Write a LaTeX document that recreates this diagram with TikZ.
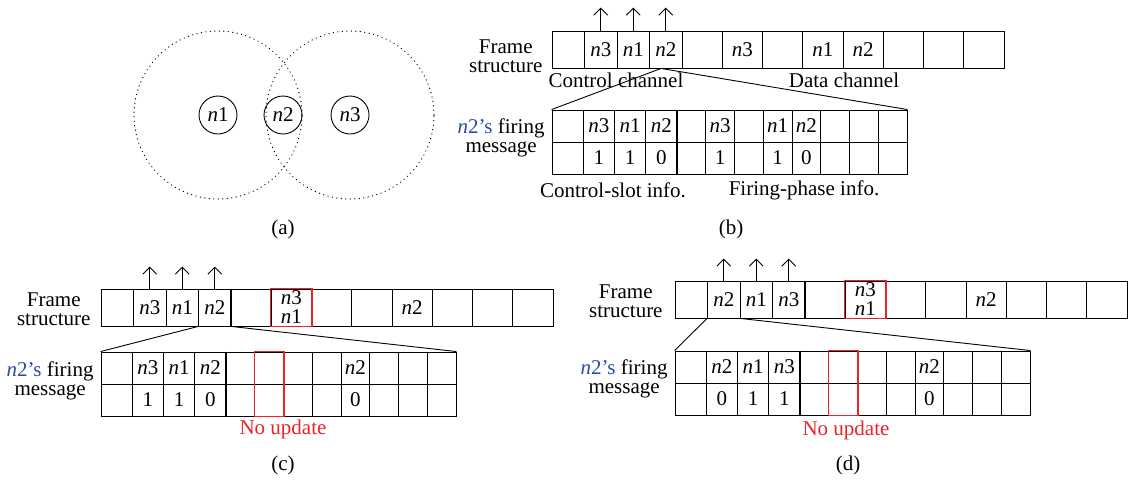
\documentclass[tikz,border=0pt]{standalone}
\usepackage{fontspec}
\setmainfont{Liberation Serif}
\usepackage{tikz}
\usetikzlibrary{arrows.meta}
\definecolor{nblue}{RGB}{40,75,165}
\definecolor{nred}{RGB}{235,35,40}

\begin{document}
\begin{tikzpicture}[x=1pt,y=-1pt,line width=0.9pt,font=\fontsize{21}{19}\selectfont,
  fc/.style={draw,rectangle,minimum width=32.5pt,minimum height=37pt,inner sep=0pt,align=center},
  fd/.style={fc,minimum width=40.25pt},
  tc/.style={fc,minimum width=31.25pt,minimum height=32pt},
  td/.style={tc,minimum width=28.75pt},
  lbl/.style={inner sep=0pt,align=center,anchor=east},
  sepline/.style={line width=2pt},
  nored/.style={draw=nred,line width=1.2pt},
  reach/.style={dash pattern=on 0.3pt off 4.2pt,line cap=round,line width=1.1pt},
  ncirc/.style={draw,circle,minimum size=38pt,inner sep=0pt},
  uparr/.style={-{Straight Barb[length=7pt,width=14pt]}}]
\useasboundingbox (0,0) rectangle (1129,485);

 \node[ncirc] (n1) at (218,115) {\textit{n}1};
  \node[ncirc] (n2) at (283,115) {\textit{n}2};
  \node[ncirc] (n3) at (350,115) {\textit{n}3};
   \draw[reach] (n1.center) circle (84pt);
   \draw[reach] (n3.center) circle (84pt);
 \node (capa) at (283,229) {(a)};

 \foreach \i/\t in {0/{},1/\textit{n}3,2/\textit{n}1,3/\textit{n}2}
   \node[fc] (bfc\i) at (568.25+\i*32.5,49.5) {\t};
 \foreach \i/\t in {0/{},1/\textit{n}3,2/{},3/\textit{n}1,4/\textit{n}2,5/{},6/{},7/{}}
   \node[fd] (bfd\i) at (702.125+\i*40.25,49.5) {\t};
 \foreach \i in {1,2,3}
   \draw[uparr] (bfc\i.north) -- ++(0,-23);
 \foreach \i/\t in {0/{},1/\textit{n}3,2/\textit{n}1,3/\textit{n}2}
   \node[tc] (btc\i) at (567.625+\i*31.25,126) {\t};
 \foreach \i/\t in {0/{},1/\textit{n}3,2/{},3/\textit{n}1,4/\textit{n}2,5/{},6/{},7/{}}
   \node[td] (btd\i) at (691.375+\i*28.75,126) {\t};
 \foreach \i/\t in {0/{},1/1,2/1,3/0}
   \node[tc] (bbc\i) at (567.625+\i*31.25,158) {\t};
 \foreach \i/\t in {0/{},1/1,2/{},3/1,4/0,5/{},6/{},7/{}}
   \node[td] (bbd\i) at (691.375+\i*28.75,158) {\t};
  \draw[sepline] (btc3.north east) -- (bbc3.south east);
  \coordinate (bfire) at ([xshift=12pt]bfc3.south west);
  \draw (bfire) -- (btc0.north west);
  \draw (bfire) -- (btd7.north east);
  \node[lbl] (bframe) at (543,56) {Frame\\structure};
  \node (bctl) at (616,80) {Control channel};
  \node (bdata) at (844,80) {Data channel};
  \node[lbl] (bmsg) at (545,138) {{\color{nblue}\textit{n}2’s} firing\\message};
  \node (bslot) at (613,190) {Control-slot info.};
  \node (bphase) at (804,190) {Firing-phase info.};
 \node (capb) at (731,229) {(b)};

 \foreach \i/\t in {0/{},1/\textit{n}3,2/\textit{n}1,3/\textit{n}2}
   \node[fc] (cfc\i) at (117.25+\i*32.5,307.5) {\t};
 \foreach \i/\t in {0/{},1/{\textit{n}3\\\textit{n}1},2/{},3/{},4/\textit{n}2,5/{},6/{},7/{}}
   \node[fd] (cfd\i) at (251.125+\i*40.25,307.5) {\t};
 \foreach \i in {1,2,3}
   \draw[uparr] (cfc\i.north) -- ++(0,-22);
  \draw[sepline] (cfc3.north east) -- (cfc3.south east);
  \draw[nored] (cfd1.north west) rectangle (cfd1.south east);
 \foreach \i/\t in {0/{},1/\textit{n}3,2/\textit{n}1,3/\textit{n}2}
   \node[tc] (ctc\i) at (116.625+\i*31.25,368) {\t};
 \foreach \i/\t in {0/{},1/{},2/{},3/{},4/\textit{n}2,5/{},6/{},7/{}}
   \node[td] (ctd\i) at (240.375+\i*28.75,368) {\t};
 \foreach \i/\t in {0/{},1/1,2/1,3/0}
   \node[tc] (cbc\i) at (116.625+\i*31.25,400) {\t};
 \foreach \i/\t in {0/{},1/{},2/{},3/{},4/0,5/{},6/{},7/{}}
   \node[td] (cbd\i) at (240.375+\i*28.75,400) {\t};
  \draw[sepline] (ctc3.north east) -- (cbc3.south east);
  \draw[nored] (ctd1.north west) rectangle (cbd1.south east);
  \draw (cfc3.south west) -- (ctc0.north west);
  \draw (cfc3.south east) -- (ctd7.north east);
  \node[lbl] (cframe) at (91,309) {Frame\\structure};
  \node[lbl] (cmsg) at (94,381) {{\color{nblue}\textit{n}2’s} firing\\message};
  \node[text=nred] (cnoup) at (283,429) {No update};
 \node (capc) at (283,465) {(c)};

 \foreach \i/\t in {0/{},1/\textit{n}2,2/\textit{n}1,3/\textit{n}3}
   \node[fc] (dfc\i) at (691.25+\i*32.5,299.5) {\t};
 \foreach \i/\t in {0/{},1/{\textit{n}3\\\textit{n}1},2/{},3/{},4/\textit{n}2,5/{},6/{},7/{}}
   \node[fd] (dfd\i) at (825.125+\i*40.25,299.5) {\t};
 \foreach \i in {1,2,3}
   \draw[uparr] (dfc\i.north) -- ++(0,-22);
  \draw[sepline] (dfc3.north east) -- (dfc3.south east);
  \draw[nored] (dfd1.north west) rectangle (dfd1.south east);
 \foreach \i/\t in {0/{},1/\textit{n}2,2/\textit{n}1,3/\textit{n}3}
   \node[tc] (dtc\i) at (690.625+\i*31.25,367) {\t};
 \foreach \i/\t in {0/{},1/{},2/{},3/{},4/\textit{n}2,5/{},6/{},7/{}}
   \node[td] (dtd\i) at (814.375+\i*28.75,367) {\t};
 \foreach \i/\t in {0/{},1/0,2/1,3/1}
   \node[tc] (dbc\i) at (690.625+\i*31.25,399) {\t};
 \foreach \i/\t in {0/{},1/{},2/{},3/{},4/0,5/{},6/{},7/{}}
   \node[td] (dbd\i) at (814.375+\i*28.75,399) {\t};
  \draw[sepline] (dtc3.north east) -- (dbc3.south east);
  \draw[nored] (dtd1.north west) rectangle (dbd1.south east);
  \draw (dfc1.south west) -- (dtc0.north west);
  \draw (dfc1.south east) -- (dtd7.north east);
  \node[lbl] (dframe) at (663,301) {Frame\\structure};
  \node[lbl] (dmsg) at (668,379) {{\color{nblue}\textit{n}2’s} firing\\message};
  \node[text=nred] (dnoup) at (846,430) {No update};
 \node (capd) at (848,465) {(d)};
\end{tikzpicture}
\end{document}
